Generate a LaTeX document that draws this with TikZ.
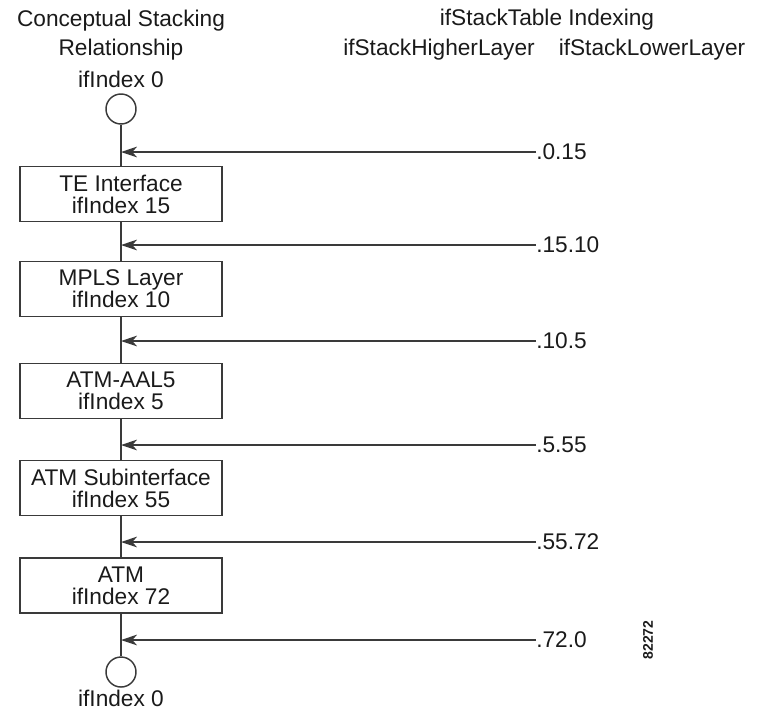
\documentclass[tikz,border=0pt]{standalone}
\usepackage{fontspec}
\setmainfont{Liberation Sans}
\usepackage{xcolor}
\usetikzlibrary{arrows.meta}
\definecolor{stackgray}{HTML}{3a3a3a}
\definecolor{stackink}{HTML}{1a1a1a}

\tikzset{
	layerbox/.style={draw=stackgray, line width=1.1pt, minimum width=151.5pt, minimum height=41.5pt, inner sep=0pt, align=center, text=stackink, font=\fontsize{17}{16.5}\selectfont},
	endring/.style={draw=stackgray, line width=1.1pt, circle, minimum size=22.5pt, inner sep=0pt},
	headtext/.style={text=stackink, inner sep=0pt, align=center, font=\fontsize{17}{21.75}\selectfont},
	idxtext/.style={text=stackink, inner sep=0pt, anchor=west, font=\fontsize{17}{20}\selectfont},
	stackline/.style={draw=stackgray, line width=1.1pt},
	idxarrow/.style={draw=stackgray, line width=1.1pt, -{Stealth[length=12pt, width=8pt, inset=3.5pt]}}
}

\begin{document}
\begin{tikzpicture}[x=0.75pt, y=-0.75pt]
		\useasboundingbox (0,0) rectangle (759,715);
		% left column
		\node[headtext] (concept) at (121,35) {Conceptual Stacking\\Relationship};
		\node[headtext] (topidx) at (121,79) {ifIndex 0};
		\node[endring] (ringtop) at (121,109) {};
		\node[layerbox] (te) at (121,194) {TE Interface\\ifIndex 15};
		\node[layerbox] (mpls) at (121,289) {MPLS Layer\\ifIndex 10};
		\node[layerbox] (aal) at (121,391) {ATM-AAL5\\ifIndex 5};
		\node[layerbox] (subif) at (121,488) {ATM Subinterface\\ifIndex 55};
		\node[layerbox] (atm) at (121,585.5) {ATM\\ifIndex 72};
		\node[endring] (ringbot) at (121,672) {};
		\node[headtext] (botidx) at (121,698) {ifIndex 0};
		% right column
		\node[headtext] (table) at (547,20) {ifStackTable Indexing};
		\node[headtext] (higher) at (439,50) {ifStackHigherLayer};
		\node[headtext] (lower) at (652,50) {ifStackLowerLayer};
		\node[idxtext] (k1) at (536,152) {.0.15};
		\node[idxtext] (k2) at (536,245) {.15.10};
		\node[idxtext] (k3) at (536,341) {.10.5};
		\node[idxtext] (k4) at (536,445) {.5.55};
		\node[idxtext] (k5) at (536,542) {.55.72};
		\node[idxtext] (k6) at (536,640) {.72.0};
		\node[text=stackink, rotate=90, inner sep=0pt, font=\fontsize{10.5}{12}\selectfont\bfseries] (fig) at (648,640) {82272};
		% stack
		\draw[stackline] (ringtop) -- (te) -- (mpls) -- (aal) -- (subif) -- (atm) -- (ringbot);
		\foreach \k in {k1,k2,k3,k4,k5,k6}
			\draw[idxarrow] (\k.west) -- (\k.west -| ringtop);
	\end{tikzpicture}
\end{document}
